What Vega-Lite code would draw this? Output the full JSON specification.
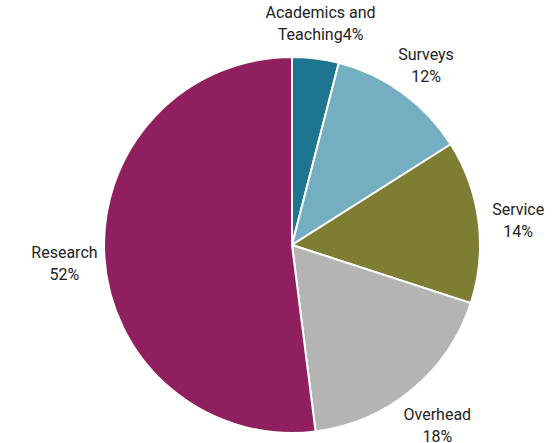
{
  "$schema": "https://vega.github.io/schema/vega-lite/v6.json",
  "autosize": {"type": "none"},
  "width": 500,
  "height": 398,
  "padding": {"left": 42, "top": 46, "right": 11, "bottom": 0},
  "background": "white",
  "data": {
    "values": [
      {"category": "Academics and Teaching", "value": 4, "order": 1, "label": "Academics and\nTeaching4%"},
      {"category": "Surveys", "value": 12, "order": 2, "label": "Surveys\n12%"},
      {"category": "Service", "value": 14, "order": 3, "label": "Service\n14%"},
      {"category": "Overhead", "value": 18, "order": 4, "label": "Overhead\n18%"},
      {"category": "Research", "value": 52, "order": 5, "label": "Research\n52%"}
    ]
  },
  "encoding": {
    "theta": {"field": "value", "type": "quantitative", "stack": true},
    "order": {"field": "order", "type": "quantitative", "sort": "ascending"},
    "color": {
      "field": "category",
      "type": "nominal",
      "legend": null,
      "scale": {
        "domain": ["Academics and Teaching", "Surveys", "Service", "Overhead", "Research"],
        "range": ["#1e7590", "#73afc1", "#7e7d33", "#b4b4b2", "#8f1f5f"]
      }
    }
  },
  "layer": [
    {
      "mark": {"type": "arc", "outerRadius": 188, "stroke": "white", "strokeWidth": 2}
    },
    {
      "mark": {
        "type": "text",
        "radius": 228,
        "fontSize": 16,
        "font": "Roboto",
        "lineBreak": "\n",
        "lineHeight": 22,
        "baseline": "middle",
        "align": "center",
        "dy": -6,
        "color": "#222222"
      },
      "encoding": {
        "text": {"field": "label", "type": "nominal"},
        "color": {"value": "#222222"}
      }
    }
  ]
}
